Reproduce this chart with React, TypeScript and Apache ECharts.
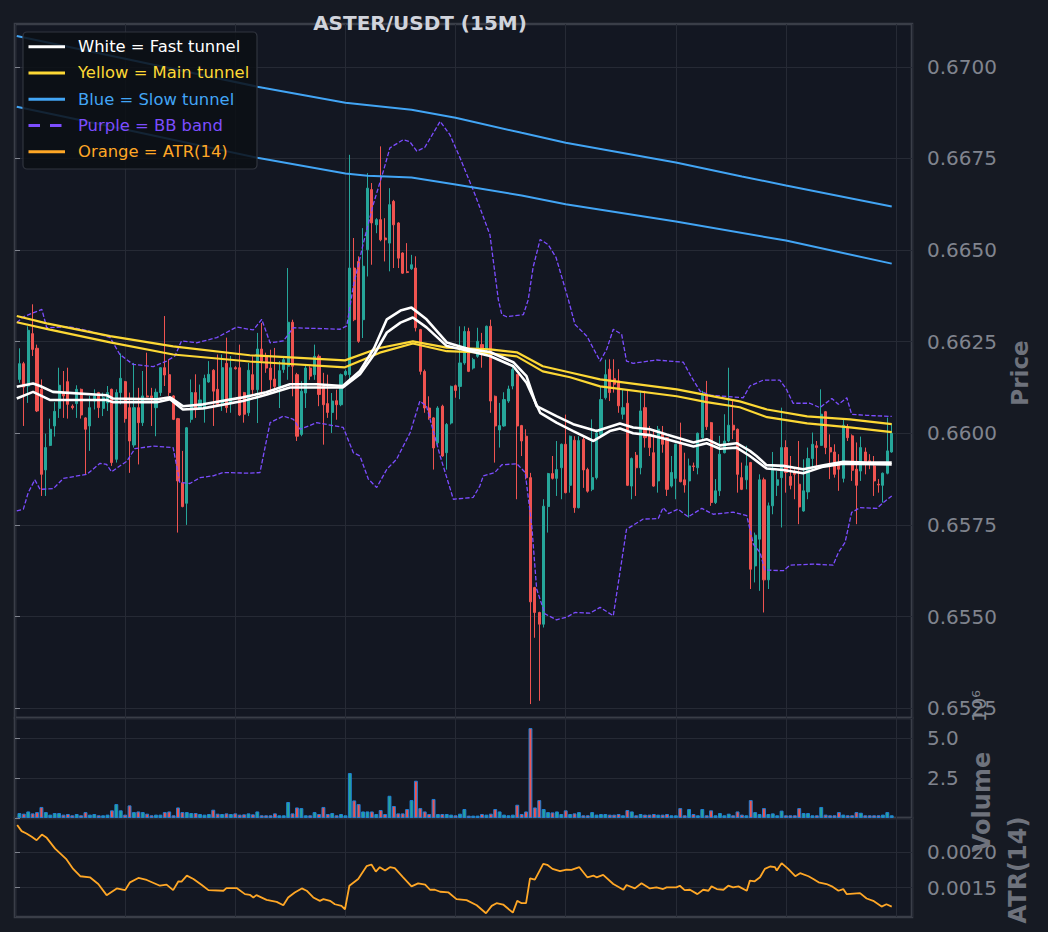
import React, { useEffect, useRef } from "react";
import * as echarts from "echarts";

// ---------- DATA ----------
const opens = [
  0.66147, 0.6619, 0.66129, 0.66272, 0.66232, 0.6612, 0.659, 0.65967, 0.6602, 0.66068,
  0.66111, 0.66141, 0.66074, 0.66081, 0.6612, 0.66042, 0.6602, 0.66088, 0.66111, 0.66068,
  0.66083, 0.6612, 0.65929, 0.66111, 0.66141, 0.6607, 0.65968, 0.6607, 0.66029, 0.66102,
  0.66102, 0.6607, 0.66111, 0.66179, 0.6616, 0.66102, 0.6604, 0.65865, 0.65809, 0.66038,
  0.66111, 0.6607, 0.6607, 0.6614, 0.66172, 0.6612, 0.66083, 0.66191, 0.66081, 0.66179,
  0.66179, 0.66111, 0.66056, 0.6616, 0.66119, 0.6623, 0.6621, 0.66178, 0.66148, 0.66128,
  0.66174, 0.66183, 0.66303, 0.6616, 0.65997, 0.6611, 0.66178, 0.6616, 0.6621, 0.66128,
  0.66081, 0.66057, 0.66089, 0.66078, 0.6616, 0.6616, 0.66451, 0.66469, 0.6631, 0.66501,
  0.66665, 0.66569, 0.66583, 0.66533, 0.66519, 0.66633, 0.66574, 0.66492, 0.66441, 0.66449,
  0.66451, 0.66283, 0.66169, 0.66069, 0.66042, 0.65974, 0.66074, 0.65947, 0.66028, 0.6613,
  0.66128, 0.66192, 0.66278, 0.66178, 0.6621, 0.66242, 0.66229, 0.66292, 0.66101, 0.66009,
  0.6602, 0.66088, 0.66129, 0.6616, 0.66021, 0.65992, 0.65879, 0.65579, 0.65511, 0.65479,
  0.658, 0.6589, 0.65877, 0.65906, 0.6597, 0.65858, 0.65981, 0.65797, 0.65983, 0.65901,
  0.65847, 0.65879, 0.65997, 0.66097, 0.66175, 0.66149, 0.66143, 0.66052, 0.66082, 0.65856,
  0.6594, 0.65906, 0.6607, 0.65997, 0.65947, 0.6587, 0.65997, 0.65988, 0.65856, 0.65877,
  0.6597, 0.65873, 0.6587, 0.65911, 0.65906, 0.65988, 0.66106, 0.66029, 0.65811, 0.65843,
  0.65947, 0.65979, 0.66022, 0.66011, 0.65879, 0.65873, 0.6592, 0.65638, 0.65711, 0.65873,
  0.656, 0.65802, 0.65858, 0.65879, 0.65961, 0.65882, 0.65893, 0.65861, 0.65788, 0.6584,
  0.65931, 0.65966, 0.65967, 0.66059, 0.65961, 0.65949, 0.65918, 0.65877, 0.66016, 0.65993,
  0.65902, 0.65897, 0.65949, 0.65925, 0.65911, 0.65861, 0.65858, 0.65891, 0.65949,
];
const highs = [
  0.66232, 0.66195, 0.66292, 0.66352, 0.66242, 0.66147, 0.65999, 0.6604, 0.66085, 0.66179,
  0.6617, 0.66179, 0.66079, 0.66131, 0.66122, 0.66044, 0.66102, 0.6612, 0.66113, 0.66111,
  0.66129, 0.66122, 0.6612, 0.66218, 0.66143, 0.66111, 0.66192, 0.66124, 0.6617, 0.6622,
  0.66124, 0.66122, 0.6618, 0.6632, 0.66202, 0.66104, 0.66042, 0.65952, 0.66017, 0.66147,
  0.66161, 0.66133, 0.6616, 0.66197, 0.66175, 0.66215, 0.66215, 0.66261, 0.66211, 0.66183,
  0.66242, 0.66113, 0.66192, 0.6621, 0.66274, 0.66301, 0.6622, 0.66228, 0.66233, 0.66197,
  0.6621, 0.66451, 0.6631, 0.66165, 0.66142, 0.66187, 0.66183, 0.66242, 0.66215, 0.66165,
  0.6616, 0.6611, 0.66119, 0.66163, 0.66174, 0.6676, 0.66533, 0.66483, 0.6656, 0.6671,
  0.66683, 0.66587, 0.66783, 0.66587, 0.66669, 0.66637, 0.66576, 0.66494, 0.66519, 0.66487,
  0.66483, 0.66285, 0.66174, 0.66101, 0.66044, 0.66074, 0.66078, 0.66028, 0.6613, 0.66133,
  0.66292, 0.66292, 0.66288, 0.66206, 0.66288, 0.66274, 0.66294, 0.6631, 0.66103, 0.66083,
  0.66112, 0.6613, 0.66188, 0.66162, 0.66023, 0.66011, 0.65892, 0.65581, 0.65513, 0.6582,
  0.65892, 0.65938, 0.65979, 0.65972, 0.66051, 0.65994, 0.65992, 0.65992, 0.65992, 0.65906,
  0.66038, 0.66011, 0.66129, 0.66201, 0.66202, 0.66202, 0.66175, 0.6612, 0.66116, 0.65934,
  0.65949, 0.66116, 0.66116, 0.6602, 0.66011, 0.6602, 0.6602, 0.6599, 0.65938, 0.65972,
  0.66029, 0.65947, 0.65931, 0.6592, 0.66002, 0.66116, 0.66143, 0.66031, 0.65875, 0.65993,
  0.66052, 0.66179, 0.66088, 0.66013, 0.6592, 0.65966, 0.65922, 0.65729, 0.65888, 0.65879,
  0.65811, 0.65949, 0.65897, 0.6607, 0.65981, 0.65938, 0.65902, 0.65979, 0.65929, 0.65961,
  0.66002, 0.65979, 0.6612, 0.66061, 0.65997, 0.6597, 0.65943, 0.66038, 0.66025, 0.65997,
  0.65975, 0.65991, 0.65961, 0.65943, 0.65938, 0.65875, 0.65893, 0.66043, 0.66025,
];
const lows = [
  0.66138, 0.6602, 0.66083, 0.66211, 0.66058, 0.65829, 0.65829, 0.65965, 0.65991, 0.66042,
  0.66042, 0.6604, 0.66065, 0.66042, 0.6604, 0.65888, 0.65952, 0.66065, 0.66042, 0.66047,
  0.66061, 0.65911, 0.6592, 0.66079, 0.66029, 0.65892, 0.65961, 0.65915, 0.6602, 0.66098,
  0.6602, 0.65992, 0.66102, 0.66129, 0.66102, 0.66036, 0.65729, 0.65798, 0.6575, 0.66029,
  0.66042, 0.66068, 0.66029, 0.66138, 0.6602, 0.66077, 0.66061, 0.66056, 0.66056, 0.66174,
  0.66047, 0.66029, 0.66047, 0.66101, 0.66028, 0.66101, 0.66165, 0.6611, 0.6611, 0.66069,
  0.66165, 0.66146, 0.66101, 0.65979, 0.65992, 0.66069, 0.66146, 0.66146, 0.66074, 0.65969,
  0.66042, 0.66001, 0.66037, 0.66074, 0.66156, 0.66146, 0.66306, 0.66247, 0.6626, 0.66428,
  0.6646, 0.66546, 0.66524, 0.66469, 0.66442, 0.66451, 0.66451, 0.66435, 0.66437, 0.66446,
  0.66278, 0.6616, 0.66056, 0.66037, 0.65901, 0.65969, 0.65936, 0.65901, 0.66024, 0.66097,
  0.66093, 0.66187, 0.66167, 0.66174, 0.66206, 0.66179, 0.66224, 0.66056, 0.6592, 0.65961,
  0.66018, 0.66083, 0.6612, 0.6582, 0.65938, 0.65874, 0.65261, 0.65442, 0.6527, 0.6547,
  0.65729, 0.65874, 0.65829, 0.6582, 0.65836, 0.65838, 0.65783, 0.65795, 0.65851, 0.65838,
  0.65842, 0.65874, 0.65992, 0.66092, 0.66088, 0.66111, 0.66056, 0.66038, 0.65856, 0.6582,
  0.65829, 0.65888, 0.65961, 0.65938, 0.65854, 0.65838, 0.65947, 0.65829, 0.65852, 0.6582,
  0.65866, 0.65838, 0.6577, 0.65897, 0.65888, 0.65984, 0.66009, 0.65802, 0.65807, 0.65829,
  0.65945, 0.65975, 0.65984, 0.65838, 0.65845, 0.65847, 0.65575, 0.65593, 0.6557, 0.65511,
  0.65575, 0.65779, 0.65829, 0.65743, 0.65838, 0.65847, 0.6582, 0.65752, 0.65786, 0.6582,
  0.65902, 0.65911, 0.65966, 0.65943, 0.65875, 0.65879, 0.65843, 0.65866, 0.65979, 0.6587,
  0.65752, 0.6587, 0.65888, 0.65902, 0.65829, 0.65838, 0.65811, 0.65888, 0.65947,
];
const closes = [
  0.6619, 0.66126, 0.66281, 0.66229, 0.66061, 0.65888, 0.65961, 0.66011, 0.6606, 0.66131,
  0.66102, 0.66079, 0.6607, 0.6612, 0.6605, 0.66011, 0.6607, 0.66102, 0.6607, 0.66097,
  0.66111, 0.6592, 0.66111, 0.6615, 0.6604, 0.65979, 0.6607, 0.66029, 0.66102, 0.66099,
  0.66097, 0.66112, 0.66179, 0.66159, 0.66111, 0.66038, 0.6587, 0.658, 0.66015, 0.66111,
  0.6607, 0.66091, 0.6615, 0.66161, 0.66115, 0.66079, 0.66179, 0.6607, 0.66179, 0.66176,
  0.6605, 0.66052, 0.66172, 0.66119, 0.6623, 0.66197, 0.66178, 0.66146, 0.66128, 0.66171,
  0.66201, 0.66303, 0.66183, 0.65992, 0.66115, 0.66178, 0.66156, 0.6621, 0.66106, 0.66078,
  0.66057, 0.66088, 0.66078, 0.6616, 0.66169, 0.66451, 0.6631, 0.66251, 0.66456, 0.66669,
  0.66574, 0.66583, 0.66528, 0.66528, 0.66624, 0.66569, 0.66478, 0.66437, 0.66439, 0.6646,
  0.66288, 0.66169, 0.66069, 0.66042, 0.6596, 0.66069, 0.65938, 0.66024, 0.66128, 0.66117,
  0.66192, 0.66278, 0.66169, 0.66201, 0.66251, 0.66229, 0.66292, 0.66088, 0.6602, 0.66021,
  0.66092, 0.66121, 0.66174, 0.6602, 0.65979, 0.65879, 0.6554, 0.65511, 0.65479, 0.65801,
  0.6589, 0.65877, 0.65901, 0.6597, 0.65838, 0.65992, 0.65797, 0.6598, 0.659, 0.65842,
  0.65879, 0.66001, 0.66092, 0.6616, 0.66111, 0.66134, 0.66075, 0.6607, 0.65858, 0.65931,
  0.65906, 0.66061, 0.65988, 0.65961, 0.65856, 0.66011, 0.6597, 0.65847, 0.65893, 0.6597,
  0.65868, 0.65859, 0.65911, 0.65909, 0.66, 0.66106, 0.66018, 0.65811, 0.65843, 0.65943,
  0.65979, 0.66022, 0.66009, 0.65888, 0.65847, 0.65911, 0.65629, 0.65722, 0.65873, 0.656,
  0.65802, 0.65902, 0.65873, 0.65961, 0.65893, 0.65858, 0.65888, 0.65799, 0.65843, 0.65931,
  0.6597, 0.65961, 0.66052, 0.65961, 0.65949, 0.65888, 0.65902, 0.66022, 0.65988, 0.65899,
  0.65858, 0.65961, 0.65922, 0.6592, 0.6587, 0.65859, 0.65891, 0.65952, 0.66,
];
// volume in millions of ASTER
const volumeMillions = [
  0.31, 0.27, 0.41, 0.29, 0.37, 0.69, 0.37, 0.21, 0.31, 0.31,
  0.21, 0.25, 0.17, 0.25, 0.17, 0.37, 0.21, 0.25, 0.17, 0.17,
  0.21, 0.48, 0.87, 0.48, 0.21, 0.79, 0.37, 0.41, 0.37, 0.27,
  0.17, 0.21, 0.21, 0.37, 0.41, 0.17, 0.66, 0.37, 0.37, 0.31,
  0.31, 0.25, 0.21, 0.25, 0.52, 0.27, 0.25, 0.29, 0.25, 0.29,
  0.21, 0.23, 0.29, 0.23, 0.41, 0.17, 0.17, 0.17, 0.29, 0.17,
  0.17, 1.0, 0.29, 0.66, 0.62, 0.17, 0.17, 0.37, 0.25, 0.69,
  0.25, 0.31, 0.17, 0.25, 0.17, 2.81, 1.1, 0.87, 0.41, 0.41,
  0.41, 0.25, 0.5, 0.25, 1.39, 0.75, 0.29, 0.29, 0.56, 1.12,
  2.33, 0.62, 0.41, 0.25, 1.19, 0.25, 0.25, 0.25, 0.21, 0.17,
  0.27, 0.56, 0.15, 0.15, 0.15, 0.25, 0.21, 0.27, 0.56, 0.41,
  0.21, 0.17, 0.21, 0.83, 0.25, 0.41, 5.62, 0.66, 1.12, 0.56,
  0.37, 0.35, 0.41, 0.25, 0.48, 0.25, 0.29, 0.37, 0.17, 0.17,
  0.37, 0.21, 0.25, 0.25, 0.21, 0.21, 0.25, 0.17, 0.5, 0.41,
  0.17, 0.25, 0.21, 0.21, 0.25, 0.21, 0.21, 0.25, 0.17, 0.17,
  0.62, 0.17, 0.56, 0.25, 0.17, 0.56, 0.17, 0.48, 0.17, 0.31,
  0.17, 0.27, 0.17, 0.41, 0.21, 0.17, 1.12, 0.37, 0.25, 0.62,
  0.25, 0.29, 0.17, 0.46, 0.17, 0.17, 0.17, 0.62, 0.31, 0.31,
  0.17, 0.17, 0.69, 0.21, 0.17, 0.17, 0.37, 0.21, 0.17, 0.17,
  0.37, 0.33, 0.17, 0.17, 0.17, 0.17, 0.21, 0.37, 0.17,
];

// indicator lines: [candle position, value]
const fastUpper = [
  [0.4, 0.66127], [4.1, 0.66136], [5.7, 0.66129], [8.6, 0.66113], [20.8, 0.66104], [22.2, 0.66095],
  [32.2, 0.66093], [35.2, 0.66098], [38.1, 0.66074], [42.7, 0.66079], [51.7, 0.66098], [57, 0.66112],
  [62.4, 0.66134], [68.5, 0.66134], [74.4, 0.66129], [78.3, 0.6617], [81.5, 0.66232], [84.4, 0.66311],
  [87.5, 0.66335], [90, 0.66343], [93.4, 0.66311], [98, 0.66248], [103.3, 0.66229], [107.8, 0.66222],
  [113.1, 0.66194], [116.1, 0.66156], [118.4, 0.66074], [122.9, 0.66047], [126.7, 0.66025], [132, 0.66006],
  [137.3, 0.66027], [140.3, 0.66016], [144.1, 0.66011], [147.9, 0.65997], [154, 0.65975], [157, 0.65984],
  [160, 0.65967], [163.8, 0.65973], [166.8, 0.65952], [168.3, 0.65938], [170.6, 0.65913], [174.4, 0.65911],
  [178.9, 0.65902], [183.5, 0.65913], [188, 0.65922], [193.3, 0.6592], [199, 0.6592],
];
const fastLower = [
  [0.4, 0.66095], [4.1, 0.66113], [7.9, 0.66091], [20.8, 0.66091], [22.2, 0.66085], [32.2, 0.66085],
  [35.2, 0.66093], [38.1, 0.66065], [42.7, 0.66068], [51.7, 0.66088], [57, 0.66105], [62.4, 0.66125],
  [74.4, 0.66125], [78.3, 0.66161], [81.5, 0.66215], [84.4, 0.66275], [87.5, 0.66302], [90.3, 0.66316],
  [93.4, 0.66289], [98, 0.66238], [103.3, 0.66224], [107.8, 0.66211], [113.1, 0.66183], [116.1, 0.66138],
  [119.2, 0.66056], [122.9, 0.66029], [126.7, 0.66006], [131.3, 0.65979], [135, 0.66006], [137.3, 0.66013],
  [140.3, 0.66], [144.1, 0.65995], [147.9, 0.65984], [154, 0.65964], [157, 0.65973], [160, 0.65958],
  [163.8, 0.65961], [166.8, 0.65938], [170.6, 0.65904], [174.4, 0.659], [178.9, 0.65891], [183.5, 0.65909],
  [188, 0.65917], [199, 0.65915],
];
const mainUpper = [
  [0.4, 0.6632], [7.2, 0.663], [21.6, 0.66265], [35.9, 0.66237], [53.3, 0.66213], [74.9, 0.66199],
  [82.5, 0.66232], [90.3, 0.66251], [98, 0.66234], [107.8, 0.66229], [113.9, 0.66221], [119.8, 0.66183],
  [126, 0.66166], [132.8, 0.66147], [150.2, 0.6612], [157, 0.66104], [164.5, 0.66087], [170.7, 0.66065],
  [179.8, 0.66046], [189.5, 0.66038], [199, 0.66025],
];
const mainLower = [
  [0.4, 0.66303], [7.9, 0.66283], [21.6, 0.66248], [35.9, 0.66215], [53.3, 0.66196], [74.9, 0.6618],
  [82.8, 0.6622], [90.3, 0.66245], [98, 0.66224], [105.5, 0.66221], [113.9, 0.6621], [119.8, 0.66169],
  [126, 0.66153], [132.8, 0.66128], [150.2, 0.66101], [157, 0.66085], [164.5, 0.66071], [170.7, 0.66044],
  [179.8, 0.66027], [189.5, 0.66016], [199, 0.66003],
];
const slowUpper = [
  [0.4, 0.67084], [25, 0.67022], [55, 0.66946], [75, 0.66902], [90, 0.66883], [100, 0.66861],
  [115, 0.6682], [125, 0.66793], [150, 0.66739], [165, 0.66701], [175, 0.66676], [199, 0.66619],
];
const slowLower = [
  [0.4, 0.66891], [25, 0.66829], [55, 0.66752], [75, 0.66709], [80, 0.66703], [90, 0.66698],
  [100, 0.66679], [115, 0.66649], [125, 0.66625], [150, 0.66578], [175, 0.66526], [199, 0.66463],
];
const bbUpper = [
  [0.4, 0.66302], [1.9, 0.66318], [6.1, 0.66338], [7.2, 0.66288], [12.1, 0.66291], [17, 0.66279],
  [21.6, 0.66261], [23.8, 0.66215], [26.8, 0.66188], [31.4, 0.66182], [34.4, 0.66197], [36.3, 0.66211],
  [37.8, 0.66252], [41.2, 0.66247], [45.8, 0.66261], [50.3, 0.6629], [54.1, 0.66282], [56, 0.66311],
  [57.9, 0.66247], [60.9, 0.66252], [63.2, 0.66288], [73.8, 0.66284], [75.3, 0.66293], [76.8, 0.66402],
  [79.1, 0.6652], [81.3, 0.66624], [83.6, 0.66715], [85.1, 0.66779], [88.1, 0.66801], [89.6, 0.66796],
  [91.2, 0.6677], [93, 0.6678], [96.5, 0.66851], [98.7, 0.66815], [101, 0.66752], [104.4, 0.66652],
  [107.8, 0.66542], [109.7, 0.66365], [110.5, 0.66324], [111.6, 0.66318], [115.4, 0.66324], [116.5, 0.66365],
  [117.6, 0.66453], [119.2, 0.66529], [121, 0.66515], [122.8, 0.6648], [125.6, 0.66365], [127.1, 0.66297],
  [129.8, 0.66265], [132.8, 0.66197], [134.3, 0.66229], [135.8, 0.66284], [137.7, 0.6627], [138.8, 0.66197],
  [140.3, 0.66191], [145.6, 0.662], [151.7, 0.66194], [153.6, 0.66152], [155.5, 0.66115], [157.8, 0.66104],
  [165.3, 0.66097], [166.8, 0.66129], [169.8, 0.66145], [173.6, 0.66145], [175.1, 0.6612], [176.6, 0.66082],
  [180.4, 0.66082], [182.7, 0.6607], [185.4, 0.66095], [186.9, 0.66079], [188.8, 0.66097], [189.9, 0.66052],
  [193.3, 0.66049], [199, 0.66046],
];
const bbLower = [
  [0.4, 0.65788], [1.9, 0.65793], [3, 0.65838], [4.5, 0.65873], [5.7, 0.65847], [8.7, 0.65849],
  [11, 0.65877], [16.3, 0.65888], [19.3, 0.65918], [20.8, 0.65915], [21.9, 0.65895], [25.4, 0.65924],
  [27.2, 0.65958], [31.4, 0.65965], [35.9, 0.65961], [37.4, 0.65866], [39.7, 0.65863], [42, 0.65879],
  [45, 0.65884], [47.3, 0.65893], [53.3, 0.65891], [55.6, 0.65893], [57.9, 0.66029], [60.9, 0.66047],
  [63.2, 0.66038], [64.7, 0.66011], [68.5, 0.66029], [74.5, 0.66016], [76.8, 0.65947], [78.3, 0.65938],
  [80.2, 0.65875], [82.1, 0.65852], [84.4, 0.65902], [86.6, 0.65929], [89.7, 0.66002], [91.9, 0.66088],
  [93.4, 0.66074], [96.5, 0.65938], [99.5, 0.6582], [104, 0.65825], [105.5, 0.65856], [106.3, 0.65884],
  [108.9, 0.65893], [110.5, 0.65914], [113.9, 0.65917], [115.8, 0.65893], [117.3, 0.65747], [118.4, 0.65575],
  [120.3, 0.65507], [122.9, 0.65491], [125.2, 0.65498], [127.1, 0.65511], [130.5, 0.65509], [132.8, 0.65525],
  [135.8, 0.65502], [137.3, 0.6562], [138.8, 0.65738], [142.6, 0.65766], [146, 0.65767], [147.1, 0.65797],
  [148.3, 0.65781], [150.5, 0.65793], [152.8, 0.65772], [155.9, 0.65795], [158.5, 0.65779], [163, 0.65785],
  [166.1, 0.65775], [167.6, 0.65697], [169.1, 0.65675], [170.2, 0.65627], [174.4, 0.65625], [175.9, 0.6564],
  [181.2, 0.65643], [185.7, 0.6564], [186.9, 0.65675], [188.4, 0.65702], [189.9, 0.65784], [191.8, 0.65797],
  [195.6, 0.65795], [197.1, 0.65811], [199, 0.65829],
];
const atr14 = [
  [0.5, 0.002386], [1.5, 0.0023], [2.6, 0.002267], [3.8, 0.002219], [4.9, 0.002171], [6.1, 0.002252],
  [7.2, 0.002205], [9.1, 0.002052], [11.7, 0.0019], [13.2, 0.001766], [14.8, 0.001662], [17, 0.001647],
  [18.9, 0.001552], [20.8, 0.001395], [23.1, 0.00149], [25, 0.001466], [26.1, 0.001576], [28, 0.001638],
  [29.9, 0.001609], [32.9, 0.001528], [34.4, 0.001543], [35.9, 0.001466], [37.1, 0.00159], [37.8, 0.001585],
  [39, 0.001671], [40.5, 0.001624], [42.4, 0.001538], [43.9, 0.001466], [47.3, 0.001457], [48, 0.001495],
  [50.3, 0.001495], [52.2, 0.001409], [53.3, 0.0014], [54.1, 0.001362], [54.8, 0.001395], [57.1, 0.001328],
  [59.4, 0.0013], [60.9, 0.001252], [62, 0.001362], [63.5, 0.001433], [65.1, 0.00149], [66.2, 0.001457],
  [67.7, 0.001362], [69.2, 0.001314], [70, 0.001338], [71.5, 0.001314], [72.6, 0.001266], [74.1, 0.001243],
  [74.9, 0.001195], [75.9, 0.001528], [77.9, 0.001624], [79.8, 0.001805], [80.9, 0.001828], [81.9, 0.001728],
  [82.8, 0.00179], [84, 0.001743], [85.1, 0.00179], [86.2, 0.001776], [88.1, 0.001647], [90, 0.001519],
  [91.5, 0.001562], [93.1, 0.001543], [94.2, 0.001471], [95.3, 0.001471], [96.5, 0.001443], [98.4, 0.001433],
  [100.2, 0.001338], [102.5, 0.001324], [104.8, 0.001252], [106.9, 0.001138], [108.2, 0.001243], [109.3, 0.001281],
  [110.8, 0.001262], [113, 0.001147], [114, 0.001314], [115, 0.001281], [116, 0.001281], [116.9, 0.001633],
  [118, 0.001614], [119.9, 0.001838], [120.8, 0.001824], [122, 0.001766], [123.7, 0.001733], [125.2, 0.001757],
  [126.3, 0.001752], [128.1, 0.00179], [129.9, 0.001647], [131.3, 0.001671], [132, 0.001647], [133.5, 0.001681],
  [135.8, 0.001552], [138.1, 0.001471], [138.8, 0.001538], [140.7, 0.00149], [142.2, 0.001562], [144.1, 0.00149],
  [145.6, 0.001505], [147.1, 0.001481], [147.9, 0.001505], [150.1, 0.001505], [150.9, 0.001528], [152, 0.001466],
  [153.2, 0.001471], [154.9, 0.001409], [156.2, 0.001471], [157.4, 0.001457], [158.1, 0.001519], [159.3, 0.001481],
  [160.8, 0.001471], [161.9, 0.001528], [163, 0.001505], [164.2, 0.001519], [166.1, 0.001457], [166.8, 0.0016],
  [167.9, 0.00159], [169.1, 0.001647], [170.2, 0.001766], [171.4, 0.0018], [172.5, 0.00179], [172.9, 0.001743],
  [174, 0.001847], [175.5, 0.001766], [177.1, 0.001662], [178.2, 0.001705], [180.1, 0.001662], [181.2, 0.001624],
  [182.4, 0.001576], [184.2, 0.001552], [185.4, 0.001519], [186.9, 0.001457], [188, 0.001481], [188.8, 0.001409],
  [191.8, 0.001424], [193.3, 0.001347], [194.8, 0.001314], [196.7, 0.001233], [197.8, 0.001266], [199, 0.001233],
];

const priceTicks = [0.6525, 0.655, 0.6575, 0.66, 0.6625, 0.665, 0.6675, 0.67];
const atrTicks = [0.0015, 0.002];
const legendItems = [
  { label: "White = Fast tunnel", color: "#ffffff", dashed: false },
  { label: "Yellow = Main tunnel", color: "#fdd835", dashed: false },
  { label: "Blue = Slow tunnel", color: "#42a5f5", dashed: false },
  { label: "Purple = BB band", color: "#7c4dff", dashed: true },
  { label: "Orange = ATR(14)", color: "#ffa726", dashed: false },
];

// ---------- STYLE ----------
const PAGE_BG = "#161a23";
const PLOT_BG = "#131722";
const GRID = "#262a35";
const BORDER = "#3a3e48";
const TICK_TEXT = "#80848e";
const NAME_TEXT = "#6e727c";
const UP = "#26a69a";
const DOWN = "#ef5350";
const WHITE = "#ffffff";
const YELLOW = "#fdd835";
const BLUE = "#42a5f5";
const PURPLE = "#7c4dff";
const ORANGE = "#ffa726";
const FONT = '"DejaVu Sans", sans-serif';

const X_MIN = 0;
const X_MAX = 203.6;

function buildOption() {
  const positions = opens.map((_, k) => k + 1);
  const candleData = positions.map((x, k) => [x, opens[k], closes[k], lows[k], highs[k]]);
  const volData = positions.map((x, k) => ({
    value: [x, volumeMillions[k] * 1e6],
    itemStyle: { color: closes[k] >= opens[k] ? UP : DOWN },
  }));

  const grids = [
    { left: 15, top: 24, width: 897, height: 694 },
    { left: 15, top: 718, width: 897, height: 100 },
    { left: 15, top: 818, width: 897, height: 99 },
  ].map((g) => ({ ...g, show: true, borderColor: BORDER, borderWidth: 2.6, backgroundColor: PLOT_BG }));

  const xAxes = [0, 1, 2].map((gi) => ({
    type: "value",
    gridIndex: gi,
    min: X_MIN,
    max: X_MAX,
    interval: 25,
    axisLine: { show: false },
    axisTick: { show: false },
    axisLabel: { show: false },
    splitLine: { show: true, lineStyle: { color: GRID, width: 1 } },
  }));

  const commonY = {
    type: "value",
    position: "right",
    axisLine: { show: false },
    splitLine: { show: true, lineStyle: { color: GRID, width: 1 } },
  };

  const yAxes = [
    {
      ...commonY,
      gridIndex: 0,
      min: 0.65223,
      max: 0.67117,
      axisTick: { show: true, length: 5, lineStyle: { color: TICK_TEXT }, customValues: priceTicks },
      axisLabel: {
        customValues: priceTicks,
        formatter: (v: number) => v.toFixed(4),
        color: TICK_TEXT,
        fontSize: 20,
        fontFamily: FONT,
        margin: 15,
      },
    },
    {
      ...commonY,
      gridIndex: 1,
      min: 0,
      max: 6.25e6,
      interval: 2.5e6,
      axisTick: { show: true, length: 5, lineStyle: { color: TICK_TEXT } },
      axisLabel: {
        formatter: (v: number) => (v === 0 ? "" : (v / 1e6).toFixed(1)),
        color: TICK_TEXT,
        fontSize: 20,
        fontFamily: FONT,
        margin: 15,
        showMaxLabel: false,
      },
    },
    {
      ...commonY,
      gridIndex: 2,
      min: 0.0010857,
      max: 0.0024857,
      axisTick: { show: true, length: 5, lineStyle: { color: TICK_TEXT }, customValues: atrTicks },
      axisLabel: {
        customValues: atrTicks,
        formatter: (v: number) => v.toFixed(4),
        color: TICK_TEXT,
        fontSize: 20,
        fontFamily: FONT,
        margin: 15,
      },
    },
  ];

  const line = (data: number[][], color: string, width: number, dashed = false, xi = 0) => ({
    type: "line",
    xAxisIndex: xi,
    yAxisIndex: xi,
    data,
    showSymbol: false,
    symbol: "none",
    silent: true,
    lineStyle: { color, width, type: dashed ? [4.4, 2] : "solid" },
  });

  const series: any[] = [
    {
      type: "candlestick",
      xAxisIndex: 0,
      yAxisIndex: 0,
      data: candleData,
      encode: { x: 0, y: [1, 2, 3, 4] },
      barWidth: 2.6,
      itemStyle: { color: UP, color0: DOWN, borderColor: UP, borderColor0: DOWN, borderWidth: 1 },
    },
    line(bbUpper, PURPLE, 1.3, true),
    line(bbLower, PURPLE, 1.3, true),
    line(slowUpper, BLUE, 2),
    line(slowLower, BLUE, 2),
    line(mainUpper, YELLOW, 2.2),
    line(mainLower, YELLOW, 2.2),
    line(fastUpper, WHITE, 2.6),
    line(fastLower, WHITE, 2.6),
    {
      type: "bar",
      xAxisIndex: 1,
      yAxisIndex: 1,
      data: volData,
      barWidth: 3.9,
      itemStyle: { borderColor: "#1f7fd6", borderWidth: 1 },
    },
    line(atr14, ORANGE, 1.8, false, 2),
  ];

  const graphic: any[] = [
    {
      type: "text",
      x: 420,
      y: 23,
      z: 100,
      style: {
        text: "ASTER/USDT (15M)",
        fill: "#d1d4dc",
        font: `bold 20px ${FONT}`,
        align: "center",
        verticalAlign: "middle",
        textAlign: "center",
        textVerticalAlign: "middle",
      },
    },
    {
      type: "rect",
      z: 100,
      shape: { x: 23, y: 32, width: 234, height: 137, r: 4 },
      style: { fill: "rgba(12,15,21,0.86)", stroke: "#30343e", lineWidth: 1.2 },
    },
  ];
  legendItems.forEach((it, k) => {
    const y = 46.7 + k * 26.25;
    graphic.push({
      type: "line",
      z: 101,
      shape: { x1: 28.5, y1: y, x2: 65, y2: y },
      style: { stroke: it.color, lineWidth: 3, lineDash: it.dashed ? [11.5, 10] : null },
    });
    graphic.push({
      type: "text",
      x: 78,
      y,
      z: 101,
      style: {
        text: it.label,
        fill: it.color,
        font: `16.4px ${FONT}`,
        verticalAlign: "middle",
        textVerticalAlign: "middle",
      },
    });
  });
  const axisName = (text: string, x: number, y: number, size: number, bold = true) => ({
    type: "text",
    x,
    y,
    rotation: Math.PI / 2,
    z: 100,
    style: {
      text,
      fill: NAME_TEXT,
      font: `${bold ? "bold " : ""}${size}px ${FONT}`,
      align: "center",
      verticalAlign: "middle",
      textAlign: "center",
      textVerticalAlign: "middle",
    },
  });
  graphic.push(axisName("Price", 1020, 373, 23));
  graphic.push(axisName("Volume", 982, 802, 24));
  graphic.push(axisName("ATR(14)", 1018, 870, 24));
  graphic.push({
    ...axisName("10\u2076", 979, 706, 19, false),
    style: {
      text: "10\u2076",
      fill: TICK_TEXT,
      font: `19px ${FONT}`,
      align: "center",
      verticalAlign: "middle",
      textAlign: "center",
      textVerticalAlign: "middle",
    },
  });

  return {
    animation: false,
    backgroundColor: PAGE_BG,
    grid: grids,
    xAxis: xAxes,
    yAxis: yAxes,
    series,
    graphic,
  };
}

export default function App() {
  const ref = useRef<HTMLDivElement>(null);
  useEffect(() => {
    document.body.style.margin = "0";
    document.body.style.background = PAGE_BG;
    const chart = echarts.init(ref.current as HTMLDivElement, null, { renderer: "svg" });
    chart.setOption(buildOption() as any);
    return () => chart.dispose();
  }, []);
  return (
    <div
      ref={ref}
      style={{ position: "absolute", left: 0, top: 0, width: 1048, height: 932, background: PAGE_BG }}
    />
  );
}
